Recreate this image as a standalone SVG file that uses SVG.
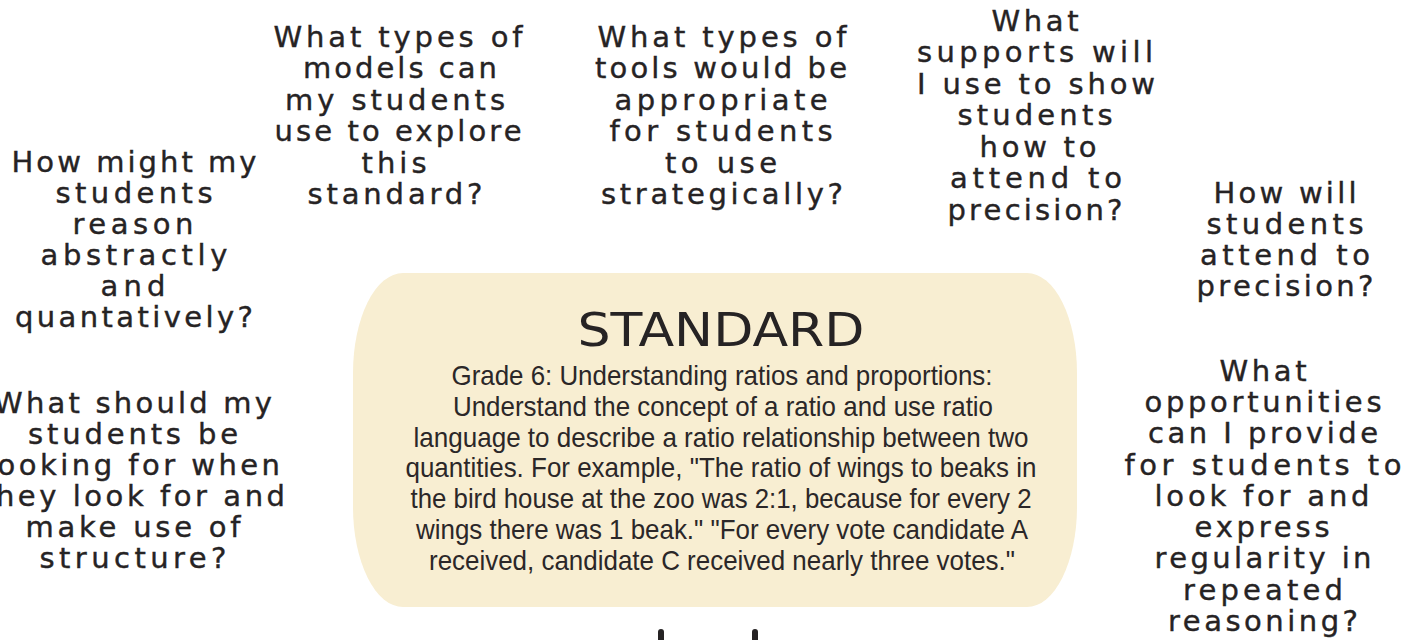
<svg xmlns="http://www.w3.org/2000/svg" width="1420" height="640" viewBox="0 0 1420 640">
<style>
.q{font-family:"DejaVu Sans","Noto Sans",sans-serif;font-size:29px;fill:#262324;stroke:#262324;stroke-width:0.4;text-anchor:middle}
.title{font-family:"DejaVu Sans","Noto Sans",sans-serif;font-size:46px;fill:#262324;text-anchor:middle}
.body{font-family:"Liberation Sans Narrow","Liberation Sans",Arial,sans-serif;font-size:28px;fill:#2b2728;text-anchor:middle}
.mark{stroke:#262324;stroke-width:6;stroke-linecap:round}
</style>
<rect width="1420" height="640" fill="#ffffff"/>

<g id="standard">
<rect x="353" y="273" width="724" height="334" rx="50" ry="100" fill="#f8eed2"/>
<text class="title" x="721" y="346" textLength="287" lengthAdjust="spacingAndGlyphs">STANDARD</text>
<text class="body" x="722" y="385" textLength="541" lengthAdjust="spacingAndGlyphs">Grade 6: Understanding ratios and proportions:</text>
<text class="body" x="723" y="416" textLength="540" lengthAdjust="spacingAndGlyphs">Understand the concept of a ratio and use ratio</text>
<text class="body" x="721" y="447" textLength="615" lengthAdjust="spacingAndGlyphs">language to describe a ratio relationship between two</text>
<text class="body" x="721" y="477" textLength="631" lengthAdjust="spacingAndGlyphs">quantities. For example, "The ratio of wings to beaks in</text>
<text class="body" x="721" y="508" textLength="621" lengthAdjust="spacingAndGlyphs">the bird house at the zoo was 2:1, because for every 2</text>
<text class="body" x="722" y="539" textLength="612" lengthAdjust="spacingAndGlyphs">wings there was 1 beak." "For every vote candidate A</text>
<text class="body" x="722" y="570" textLength="586" lengthAdjust="spacingAndGlyphs">received, candidate C received nearly three votes."</text>
</g>

<g id="q-abstract">
<text class="q" x="134" y="172" textLength="245" lengthAdjust="spacing">How might my</text>
<text class="q" x="134" y="203" textLength="157" lengthAdjust="spacing">students</text>
<text class="q" x="133" y="234" textLength="121" lengthAdjust="spacing">reason</text>
<text class="q" x="134" y="265" textLength="187" lengthAdjust="spacing">abstractly</text>
<text class="q" x="133" y="296" textLength="65" lengthAdjust="spacing">and</text>
<text class="q" x="134" y="327" textLength="238" lengthAdjust="spacing">quantatively?</text>
</g>

<g id="q-structure">
<text class="q" x="133" y="413" textLength="278" lengthAdjust="spacing">What should my</text>
<text class="q" x="133" y="444" textLength="210" lengthAdjust="spacing">students be</text>
<text class="q" x="133" y="475" textLength="294" lengthAdjust="spacing">looking for when</text>
<text class="q" x="133" y="506" textLength="304" lengthAdjust="spacing">they look for and</text>
<text class="q" x="133" y="537" textLength="215" lengthAdjust="spacing">make use of</text>
<text class="q" x="133" y="568" textLength="187" lengthAdjust="spacing">structure?</text>
</g>

<g id="q-models">
<text class="q" x="398" y="47" textLength="249" lengthAdjust="spacing">What types of</text>
<text class="q" x="400" y="78" textLength="194" lengthAdjust="spacing">models can</text>
<text class="q" x="395" y="110" textLength="220" lengthAdjust="spacing">my students</text>
<text class="q" x="398" y="141" textLength="247" lengthAdjust="spacing">use to explore</text>
<text class="q" x="394" y="173" textLength="65" lengthAdjust="spacing">this</text>
<text class="q" x="395" y="204" textLength="175" lengthAdjust="spacing">standard?</text>
</g>

<g id="q-tools">
<text class="q" x="722" y="47" textLength="249" lengthAdjust="spacing">What types of</text>
<text class="q" x="721" y="78" textLength="252" lengthAdjust="spacing">tools would be</text>
<text class="q" x="721" y="110" textLength="213" lengthAdjust="spacing">appropriate</text>
<text class="q" x="721" y="141" textLength="223" lengthAdjust="spacing">for students</text>
<text class="q" x="721" y="173" textLength="112" lengthAdjust="spacing">to use</text>
<text class="q" x="722" y="204" textLength="242" lengthAdjust="spacing">strategically?</text>
</g>

<g id="q-supports">
<text class="q" x="1035" y="31" textLength="87" lengthAdjust="spacing">What</text>
<text class="q" x="1035" y="62" textLength="236" lengthAdjust="spacing">supports will</text>
<text class="q" x="1036" y="94" textLength="238" lengthAdjust="spacing">I use to show</text>
<text class="q" x="1035" y="125" textLength="155" lengthAdjust="spacing">students</text>
<text class="q" x="1038" y="157" textLength="117" lengthAdjust="spacing">how to</text>
<text class="q" x="1036" y="188" textLength="172" lengthAdjust="spacing">attend to</text>
<text class="q" x="1035" y="220" textLength="175" lengthAdjust="spacing">precision?</text>
</g>

<g id="q-precision">
<text class="q" x="1285" y="203" textLength="143" lengthAdjust="spacing">How will</text>
<text class="q" x="1285" y="234" textLength="157" lengthAdjust="spacing">students</text>
<text class="q" x="1285" y="265" textLength="170" lengthAdjust="spacing">attend to</text>
<text class="q" x="1285" y="296" textLength="177" lengthAdjust="spacing">precision?</text>
</g>

<g id="q-regularity">
<text class="q" x="1263" y="381" textLength="87" lengthAdjust="spacing">What</text>
<text class="q" x="1263" y="412" textLength="237" lengthAdjust="spacing">opportunities</text>
<text class="q" x="1263" y="443" textLength="230" lengthAdjust="spacing">can I provide</text>
<text class="q" x="1263" y="475" textLength="277" lengthAdjust="spacing">for students to</text>
<text class="q" x="1262" y="506" textLength="215" lengthAdjust="spacing">look for and</text>
<text class="q" x="1262" y="537" textLength="135" lengthAdjust="spacing">express</text>
<text class="q" x="1263" y="568" textLength="217" lengthAdjust="spacing">regularity in</text>
<text class="q" x="1263" y="600" textLength="160" lengthAdjust="spacing">repeated</text>
<text class="q" x="1263" y="631" textLength="190" lengthAdjust="spacing">reasoning?</text>
</g>

<g id="bottom-marks">
<line class="mark" x1="661" y1="632" x2="661" y2="644"/>
<line class="mark" x1="755" y1="632" x2="755" y2="644"/>
</g>
</svg>
